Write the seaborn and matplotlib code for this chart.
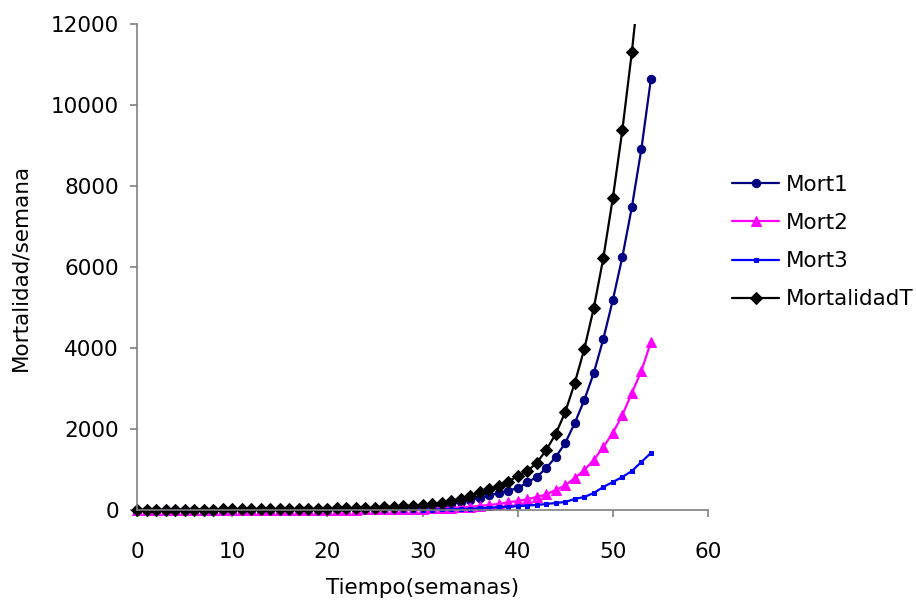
import matplotlib
matplotlib.use("Agg")
from matplotlib import pyplot as plt
from matplotlib.transforms import Bbox, TransformedBbox
import seaborn as sns
import pandas as pd

# semanas 0..54
semanas = list(range(55))

mort1 = [3, 3, 4, 4, 5, 5, 6, 6, 7, 8, 8, 9, 10, 11, 12, 13, 14, 15, 17, 19,
         21, 23, 26, 29, 32, 36, 42, 49, 57, 66,
         75, 95, 120, 150, 190, 240, 300, 360, 420, 480,
         540, 680, 815, 1037, 1309, 1654, 2148, 2716, 3383, 4222,
         5185, 6247, 7481, 8914, 10642]
mort2 = [1, 1, 1, 2, 2, 2, 2, 3, 3, 3, 3, 4, 4, 4, 5, 5, 6, 6, 7, 7,
         8, 9, 10, 11, 13, 15, 17, 20, 23, 26,
         30, 38, 45, 55, 65, 80, 100, 125, 150, 190,
         222, 265, 321, 385, 494, 610, 790, 988, 1235, 1556,
         1901, 2346, 2889, 3432, 4148]
mort3 = [1, 1, 1, 1, 1, 1, 2, 2, 2, 2, 2, 2, 2, 2, 2, 3, 3, 3, 3, 4,
         4, 5, 5, 6, 6, 7, 7, 8, 8, 9,
         10, 12, 15, 18, 22, 27, 45, 55, 70, 82,
         95, 110, 124, 148, 173, 198, 272, 321, 420, 568,
         691, 815, 963, 1185, 1407]
mort_total = [5, 6, 6, 7, 8, 9, 10, 11, 12, 13, 14, 15, 16, 18, 19, 21, 23, 25, 28, 31,
              34, 38, 42, 47, 53, 60, 70, 82, 95, 110,
              124, 148, 185, 225, 280, 346, 440, 525, 600, 700,
              840, 960, 1160, 1481, 1877, 2420, 3136, 3975, 4988, 6222,
              7704, 9383, 11309, 13531, 16197]

series = {
    "Mort1": mort1,
    "Mort2": mort2,
    "Mort3": mort3,
    "MortalidadT": mort_total,
}
estilos = {
    "Mort1": dict(color="#000080", marker="o", markersize=6),
    "Mort2": dict(color="#FF00FF", marker="^", markersize=7),
    "Mort3": dict(color="#0000FF", marker="s", markersize=3),
    "MortalidadT": dict(color="#000000", marker="D", markersize=6),
}

df = pd.DataFrame({"semana": semanas, **series})

sns.set_style("white")
plt.rcParams["font.family"] = ["DejaVu Sans"]
plt.rcParams["text.color"] = "black"
plt.rcParams["axes.labelcolor"] = "black"
FS = 15.5

fig = plt.figure(figsize=(9.16, 6.04), dpi=100)
ax = fig.add_axes([137 / 916, 1 - 510 / 604, (708 - 137) / 916, (510 - 24) / 604])

for nombre in series:
    st = estilos[nombre]
    sns.lineplot(ax=ax, data=df, x="semana", y=nombre, label=nombre,
                 color=st["color"], marker=st["marker"], markersize=st["markersize"],
                 markeredgecolor=st["color"], linewidth=1.6)

# clip only at the top/right so edge markers spill past the axes like the original
clip = TransformedBbox(Bbox([[-0.05, -0.05], [1.05, 1.0]]), ax.transAxes)
for line in ax.get_lines():
    line.set_clip_box(clip)

ax.set_xlim(0, 60)
ax.set_ylim(0, 12000)
ax.set_xticks(range(0, 61, 10))
ax.set_yticks(range(0, 12001, 2000))
for side in ["top", "right"]:
    ax.spines[side].set_visible(False)
for side in ["left", "bottom"]:
    ax.spines[side].set_color("#808080")
    ax.spines[side].set_linewidth(1.2)
ax.tick_params(axis="both", which="major", direction="out", length=5, width=1.2,
               color="#808080", labelsize=FS, labelcolor="black")
ax.tick_params(axis="x", pad=18, bottom=True)
ax.tick_params(axis="y", pad=8, left=True)

ax.set_xlabel("Tiempo(semanas)", fontsize=FS, color="black")
ax.set_ylabel("Mortalidad/semana", fontsize=FS, color="black")
ax.xaxis.set_label_coords(0.5, -0.14)
ax.yaxis.set_label_coords(-0.187, 0.5)

leg = ax.legend(loc="center left", bbox_to_anchor=(732 / 916, 1 - 242 / 604),
                bbox_transform=fig.transFigure, frameon=False, fontsize=FS,
                handlelength=2.2, handletextpad=0.3, labelspacing=0.85,
                borderpad=0, borderaxespad=0)
for t in leg.get_texts():
    t.set_color("black")

fig.savefig("out.png", dpi=100)
